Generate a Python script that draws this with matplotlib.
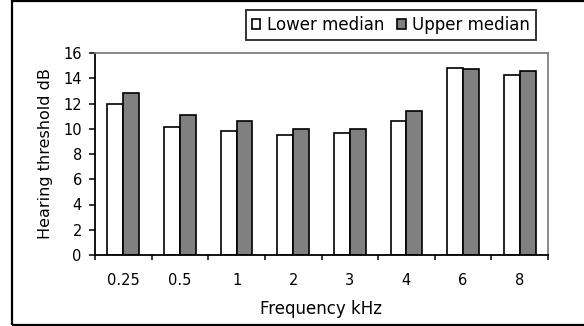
import matplotlib

matplotlib.use("Agg")

import matplotlib.pyplot as plt
import numpy as np
from matplotlib.patches import Rectangle


FREQS = ["0.25", "0.5", "1", "2", "3", "4", "6", "8"]
LOWER = [12.0, 10.1, 9.8, 9.5, 9.65, 10.6, 14.85, 14.25]
UPPER = [12.8, 11.05, 10.6, 9.95, 9.95, 11.4, 14.7, 14.55]
YTICKS = [0, 2, 4, 6, 8, 10, 12, 14, 16]

W, H = 584, 326


def px(x0, y0, x1, y1):
    # pixel box (top-left origin) -> figure fraction [left, bottom, width, height]
    return [x0 / W, 1 - y1 / H, (x1 - x0) / W, (y1 - y0) / H]


def main():
    plt.rcParams["font.family"] = ["DejaVu Sans"]
    fig = plt.figure(figsize=(W / 100, H / 100), dpi=100)
    ax = fig.add_axes(px(95, 53, 548, 255))

    x = np.arange(len(FREQS)) + 0.5
    bw = 0.28
    ax.bar(x - bw / 2, LOWER, bw, color="white", edgecolor="black",
           linewidth=1.2, label="Lower median", zorder=2)
    ax.bar(x + bw / 2, UPPER, bw, color="#808080", edgecolor="black",
           linewidth=1.2, label="Upper median", zorder=2)

    ax.set_xlim(0, len(FREQS))
    ax.set_ylim(0, 16)
    ax.set_yticks(YTICKS)
    ax.set_xticks(x)
    ax.set_xticklabels(FREQS)
    ax.set_xticks(np.arange(len(FREQS) + 1), minor=True)

    ax.tick_params(axis="x", which="major", length=0, pad=13, labelsize=10.5)
    ax.tick_params(axis="x", which="minor", length=3.5, width=1.1, direction="out")
    ax.tick_params(axis="y", length=4.5, width=1.1, direction="out", pad=5, labelsize=10.5)

    for side in ("left", "bottom"):
        ax.spines[side].set_color("black")
        ax.spines[side].set_linewidth(1.3)
    for side in ("top", "right"):
        ax.spines[side].set_color("#808080")
        ax.spines[side].set_linewidth(1.3)

    ax.set_xlabel("Frequency kHz", fontsize=12)
    ax.xaxis.set_label_coords(0.5, -0.267)
    ax.xaxis.label.set_va("center")
    ax.set_ylabel("Hearing threshold dB", fontsize=11.5)
    ax.yaxis.set_label_coords(-0.110, 0.5)
    ax.yaxis.label.set_va("center")

    leg = fig.legend(
        loc="upper right",
        bbox_to_anchor=(536 / W, 1 - 10 / H),
        ncol=2,
        fontsize=12,
        frameon=True,
        fancybox=False,
        handlelength=0.5,
        handleheight=0.5,
        handletextpad=0.4,
        columnspacing=0.8,
        borderpad=0.35,
        borderaxespad=0,
    )
    leg.get_frame().set_edgecolor("black")
    leg.get_frame().set_linewidth(1.4)

    # outer frame (right side runs off the image)
    fig.patches.append(
        Rectangle((12 / W, 1 / H), 1.5, 324 / H, transform=fig.transFigure,
                  fill=False, edgecolor="black", linewidth=1.6)
    )

    fig.savefig("out.png", dpi=100)
    plt.close(fig)


if __name__ == "__main__":
    main()
